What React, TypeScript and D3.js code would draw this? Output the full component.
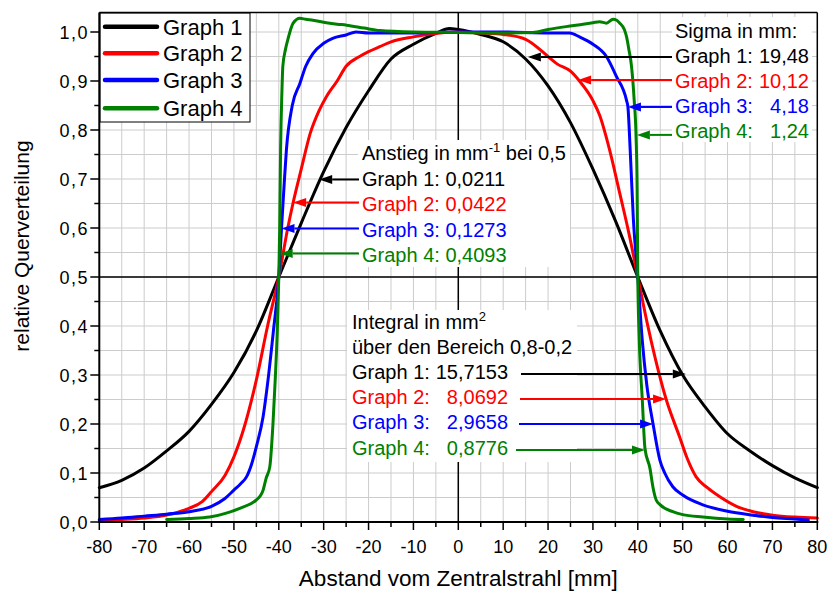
import React from "react";
import * as d3 from "d3";

// ---------- data ----------
const graph1X = [-80,-75,-70,-65,-60,-55,-50,-45,-40,-35,-30,-25,-20,-15,-10,-5,-2,0,5,10,15,20,25,30,35,40,45,50,55,60,65,70,75,80];
const graph1Y = [0.07,0.085,0.11,0.145,0.185,0.24,0.305,0.39,0.5,0.61,0.715,0.805,0.88,0.945,0.975,0.997,1.007,1.005,0.995,0.98,0.945,0.89,0.815,0.72,0.615,0.5,0.39,0.3,0.235,0.18,0.145,0.115,0.09,0.07];

const graph2X = [-80,-75,-70,-65,-60,-57,-55,-52,-50,-47.5,-45,-42.5,-40,-38,-36.8,-35,-33,-31,-29.4,-27,-25,-22,-20,-17.5,-15,-10,-5,0,5,10,15,20,22,25,27,30,31.5,33.7,36,38,40,42,44,46.3,49.3,51,53,55.5,58.2,62,65.7,70,75,80];
const graph2Y = [0.003,0.005,0.008,0.014,0.028,0.042,0.062,0.095,0.133,0.2,0.29,0.4,0.5,0.6,0.652,0.72,0.793,0.84,0.868,0.9,0.93,0.95,0.96,0.97,0.98,0.99,0.997,1.0,0.998,0.995,0.985,0.95,0.935,0.92,0.9,0.86,0.83,0.76,0.67,0.59,0.5,0.41,0.33,0.251,0.174,0.13,0.092,0.07,0.052,0.032,0.021,0.014,0.01,0.008];

const graph3X = [-80,-75,-70,-65,-60,-55,-52,-50,-48.5,-47.2,-46,-45,-43.5,-42.4,-41.2,-40,-39.4,-38.8,-38.3,-37,-35.3,-34,-32.4,-30,-28,-25,-22.8,-20,-10,0,10,20,24.8,27,30,33,35.2,37.5,37.8,38.3,39,40,41,42,43.4,44.9,46,47.8,50,54.5,60,65.7,70,75,78];
const graph3Y = [0.005,0.008,0.012,0.016,0.021,0.032,0.048,0.065,0.078,0.092,0.12,0.154,0.215,0.29,0.39,0.5,0.599,0.69,0.76,0.85,0.895,0.93,0.956,0.977,0.987,0.994,1.0,0.998,0.998,1.0,1.0,0.998,0.998,0.99,0.975,0.95,0.91,0.86,0.847,0.76,0.62,0.5,0.37,0.28,0.2,0.127,0.1,0.072,0.055,0.035,0.022,0.014,0.009,0.006,0.004];

const graph4X = [-65,-60,-55.4,-51.7,-48.7,-45,-44,-43.5,-42.8,-42,-41.3,-40.8,-40.3,-40,-39.8,-39.6,-39.3,-39.1,-38.5,-38,-36.8,-35.3,-34,-32.4,-29.4,-27,-24.9,-21,-17.5,-10,0,10,16.6,20,24,27.8,30,31.5,33,34.5,35.3,36,37,37.5,38,38.6,39.2,39.6,39.85,40,40.3,41,41.6,42.7,43.4,44.1,45,47.8,50,54.5,60,63.5];
const graph4Y = [0.005,0.007,0.01,0.018,0.028,0.045,0.055,0.065,0.09,0.113,0.2,0.29,0.4,0.5,0.6,0.76,0.88,0.93,0.965,0.984,1.018,1.028,1.026,1.024,1.019,1.016,1.014,1.008,1.003,1.0,0.999,0.998,0.999,1.005,1.011,1.016,1.019,1.021,1.018,1.026,1.024,1.018,1.005,0.99,0.965,0.93,0.86,0.79,0.68,0.5,0.38,0.25,0.15,0.11,0.07,0.045,0.035,0.021,0.015,0.01,0.006,0.005];

const seriesNames = ["Graph 1", "Graph 2", "Graph 3", "Graph 4"];
const seriesColors = ["#000000", "#ff0000", "#0000ff", "#008000"];
const seriesX = [graph1X, graph2X, graph3X, graph4X];
const seriesY = [graph1Y, graph2Y, graph3Y, graph4Y];

const xTickValues = [-80,-70,-60,-50,-40,-30,-20,-10,0,10,20,30,40,50,60,70,80];
const xTickLabels = ["-80","-70","-60","-50","-40","-30","-20","-10","0","10","20","30","40","50","60","70","80"];
const yTickValues = [0,0.1,0.2,0.3,0.4,0.5,0.6,0.7,0.8,0.9,1.0];
const yTickLabels = ["0,0","0,1","0,2","0,3","0,4","0,5","0,6","0,7","0,8","0,9","1,0"];

const sigmaValues = ["19,48", "10,12", "4,18", "1,24"];
const sigmaTips = [[15.5,0.949],[26.7,0.902],[37.8,0.847],[39.8,0.79]];
const slopeValues = ["0,0211", "0,0422", "0,1273", "0,4093"];
const slopeTips = [[-31.0,0.699],[-36.8,0.652],[-39.4,0.599],[-39.8,0.548]];
const integralValues = ["15,7153", "8,0692", "2,9658", "0,8776"];
const integralTips = [[50.7,0.302],[46.3,0.251],[43.4,0.2],[41.6,0.147]];

// ---------- layout ----------
const W = 829, H = 592;
const L = 99.3, R = 817.3, T = 12.4, B = 522;
const FONT = "'Liberation Sans', Arial, Helvetica, sans-serif";

const xScale = d3.scaleLinear().domain([-80, 80]).range([L, R]);
const yScale = d3.scaleLinear().domain([0, 1.04]).range([B, T]);

function Arrow({ x0, y, tipX, color }: { x0: number; y: number; tipX: number; color: string }) {
  const dir = tipX < x0 ? -1 : 1;
  const len = 13, hw = 4.5;
  const baseX = tipX - dir * len;
  return (
    <g>
      <line x1={x0} y1={y} x2={baseX} y2={y} stroke={color} strokeWidth={2} />
      <path d={`M${tipX},${y}L${baseX},${y - hw}L${baseX},${y + hw}Z`} fill={color} />
    </g>
  );
}

export default function App() {
  const gridX = d3.range(-75, 80, 5);
  const gridY = d3.range(1, 21).map((i) => i * 0.05);
  const minorX = d3.range(-75, 80, 10);
  const minorY = d3.range(0, 10).map((i) => 0.05 + i * 0.1);

  const paths = seriesX.map((xs, si) => {
    const pts: [number, number][] = xs.map((x, i) => [xScale(x), yScale(seriesY[si][i])]);
    return d3.line().curve(d3.curveMonotoneX)(pts) || "";
  });

  const legendY = [26.7, 53.3, 80, 108.3];
  const sigmaBase = [63, 88, 113, 138];
  const slopeBase = [185.5, 211, 236.5, 262];
  const integralBase = [379, 404, 429, 455];
  const integralStart = [521, 520, 519, 516];

  return (
    <svg
      width={W}
      height={H}
      style={{ position: "absolute", left: 0, top: 0, background: "#fff" }}
      fontFamily={FONT}
    >
      <rect x={0} y={0} width={W} height={H} fill="#fff" />
      {/* grid */}
      <g stroke="#cccccc" strokeWidth={1}>
        {gridX.map((v) => (
          <line key={"gx" + v} x1={xScale(v)} x2={xScale(v)} y1={T} y2={B} />
        ))}
        {gridY.map((v, i) => (
          <line key={"gy" + i} x1={L} x2={R} y1={yScale(v)} y2={yScale(v)} />
        ))}
      </g>
      {/* center cross */}
      <line x1={xScale(0)} x2={xScale(0)} y1={T} y2={B} stroke="#000" strokeWidth={1.5} />
      <line x1={L} x2={R} y1={yScale(0.5)} y2={yScale(0.5)} stroke="#000" strokeWidth={1.5} />

      {/* annotation backgrounds */}
      <rect x={672} y={17} width={140} height={125} fill="#fff" />
      <rect x={358} y={140} width={212} height={127} fill="#fff" />
      <rect x={347} y={310} width={230} height={152} fill="#fff" />

      {/* curves */}
      <g fill="none" strokeWidth={3} strokeLinejoin="round" strokeLinecap="round">
        {paths.map((p, i) => (
          <path key={"c" + i} d={p} stroke={seriesColors[i]} />
        ))}
      </g>

      {/* legend */}
      <rect x={100} y={13} width={150} height={109} fill="#fff" stroke="#000" strokeWidth={1} />
      {seriesNames.map((n, i) => (
        <g key={"lg" + i}>
          <line x1={105} x2={157} y1={legendY[i]} y2={legendY[i]} stroke={seriesColors[i]} strokeWidth={4.5} strokeLinecap="round" />
          <text x={163} y={legendY[i] + 8} fontSize={22} fill="#000">{n}</text>
        </g>
      ))}

      {/* sigma annotation */}
      <text x={675} y={38} fontSize={20} fill="#000">Sigma in mm:</text>
      {seriesNames.map((n, i) => (
        <g key={"sg" + i}>
          <text x={675} y={sigmaBase[i]} fontSize={20} fill={seriesColors[i]}>{n + ":"}</text>
          <text x={809} y={sigmaBase[i]} fontSize={20} fill={seriesColors[i]} textAnchor="end">{sigmaValues[i]}</text>
          <Arrow x0={672} y={yScale(sigmaTips[i][1])} tipX={xScale(sigmaTips[i][0])} color={seriesColors[i]} />
        </g>
      ))}

      {/* slope annotation */}
      <text x={362} y={160} fontSize={20} fill="#000">
        Anstieg in mm
        <tspan fontSize={13} dy={-8}>-1</tspan>
        <tspan dy={8}> bei 0,5</tspan>
      </text>
      {seriesNames.map((n, i) => (
        <g key={"sl" + i}>
          <text x={362} y={slopeBase[i]} fontSize={20} fill={seriesColors[i]}>{n + ": " + slopeValues[i]}</text>
          <Arrow x0={359} y={yScale(slopeTips[i][1])} tipX={xScale(slopeTips[i][0])} color={seriesColors[i]} />
        </g>
      ))}

      {/* integral annotation */}
      <text x={352} y={329} fontSize={20} fill="#000">
        Integral in mm
        <tspan fontSize={13} dy={-8}>2</tspan>
      </text>
      <text x={352} y={354} fontSize={20} fill="#000">über den Bereich 0,8-0,2</text>
      {seriesNames.map((n, i) => (
        <g key={"in" + i}>
          <text x={352} y={integralBase[i]} fontSize={20} fill={seriesColors[i]}>{n + ":"}</text>
          <text x={508} y={integralBase[i]} fontSize={20} fill={seriesColors[i]} textAnchor="end">{integralValues[i]}</text>
          <Arrow x0={integralStart[i]} y={yScale(integralTips[i][1])} tipX={xScale(integralTips[i][0])} color={seriesColors[i]} />
        </g>
      ))}

      {/* frame */}
      <line x1={L} x2={R} y1={T} y2={T} stroke="#000" strokeWidth={1.5} />
      <line x1={R} x2={R} y1={T} y2={B} stroke="#000" strokeWidth={1.5} />
      <line x1={L} x2={L} y1={T} y2={B + 1} stroke="#000" strokeWidth={2} />
      <line x1={L - 1} x2={R + 1} y1={B} y2={B} stroke="#000" strokeWidth={2} />

      {/* ticks */}
      <g stroke="#000" strokeWidth={1.5}>
        {xTickValues.map((v) => (
          <line key={"xt" + v} x1={xScale(v)} x2={xScale(v)} y1={B} y2={B + 8} />
        ))}
        {minorX.map((v) => (
          <line key={"xm" + v} x1={xScale(v)} x2={xScale(v)} y1={B} y2={B + 5} />
        ))}
        {yTickValues.map((v, i) => (
          <line key={"yt" + i} x1={L - 9} x2={L} y1={yScale(v)} y2={yScale(v)} />
        ))}
        {minorY.map((v, i) => (
          <line key={"ym" + i} x1={L - 5} x2={L} y1={yScale(v)} y2={yScale(v)} />
        ))}
      </g>
      {xTickValues.map((v, i) => (
        <text key={"xl" + v} x={xScale(v)} y={553} fontSize={18} textAnchor="middle" fill="#000">
          {xTickLabels[i]}
        </text>
      ))}
      {yTickValues.map((v, i) => (
        <text key={"yl" + i} x={89} y={yScale(v) + 6.5} fontSize={18} textAnchor="end" fill="#000" letterSpacing={1.5}>
          {yTickLabels[i]}
        </text>
      ))}

      {/* axis titles */}
      <text x={xScale(0)} y={586} fontSize={22.5} textAnchor="middle" fill="#000">
        Abstand vom Zentralstrahl [mm]
      </text>
      <text transform={`translate(29,246) rotate(-90)`} fontSize={21} textAnchor="middle" fill="#000">
        relative Querverteilung
      </text>
    </svg>
  );
}
